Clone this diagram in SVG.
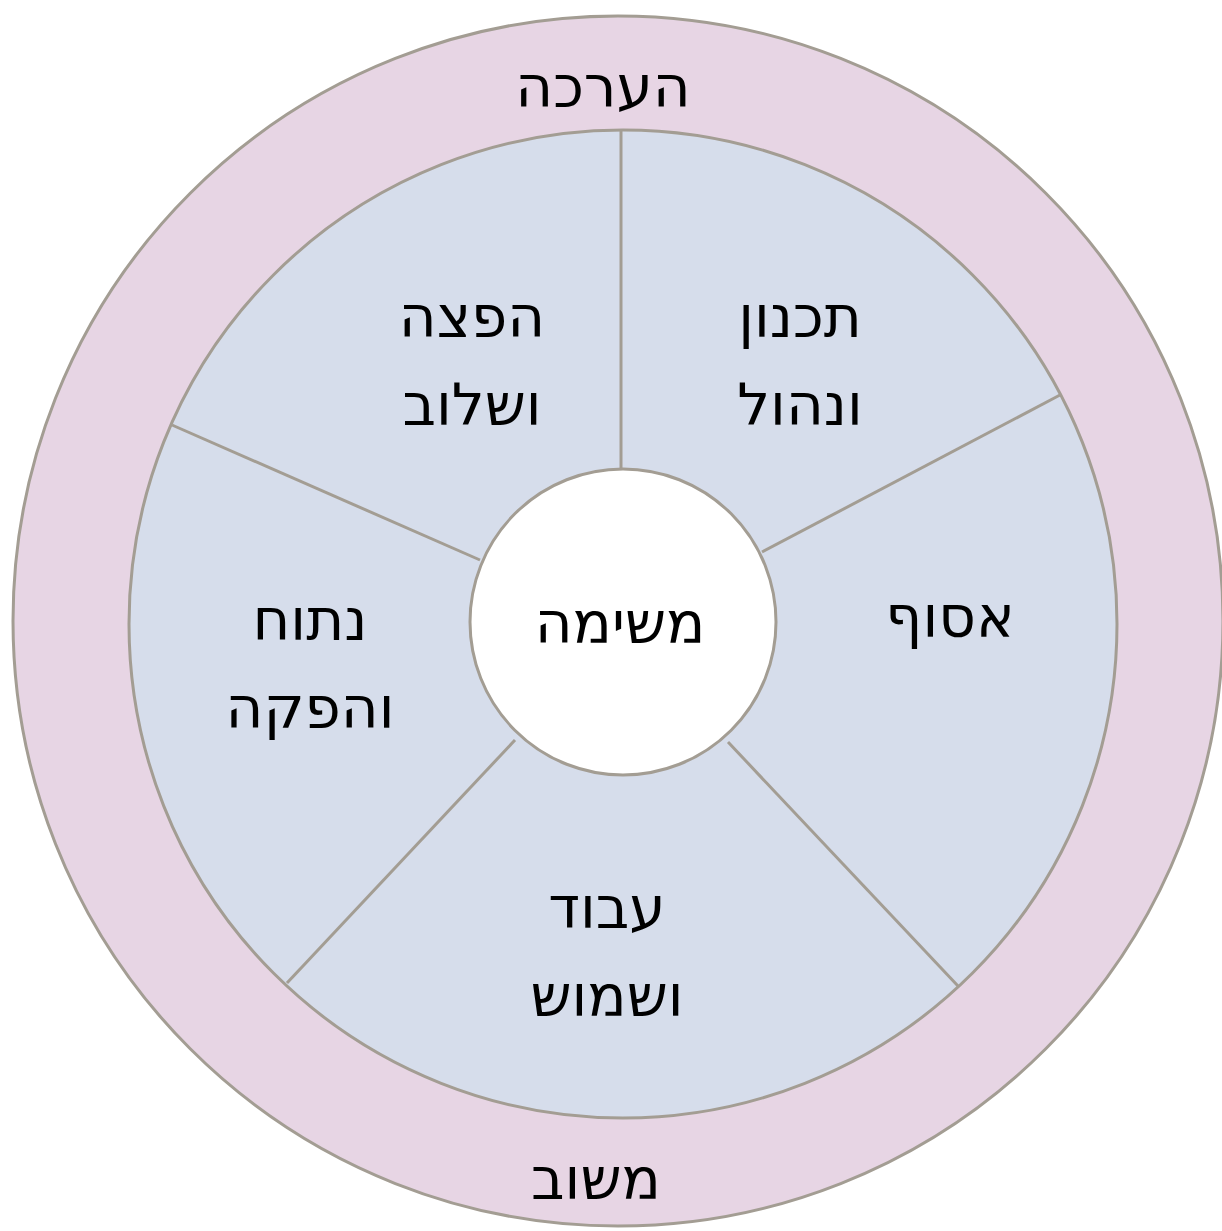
<svg xmlns="http://www.w3.org/2000/svg" width="1222" height="1231" viewBox="0 0 1222 1231">
<style>
.ring{fill:#e7d5e4;stroke:#a39d93;stroke-width:3}
.disk{fill:#d6ddeb;stroke:#a39d93;stroke-width:3}
.hub{fill:#ffffff;stroke:#a39d93;stroke-width:3}
.spoke{stroke:#a39d93;stroke-width:3;fill:none}
text{font-family:"DejaVu Sans",sans-serif;font-size:58px;fill:#000;text-anchor:middle}
</style>
<rect width="1222" height="1231" fill="#ffffff"/>
<g id="outer-ring">
<circle class="ring" cx="618" cy="621" r="605"/>
<text x="603" y="107">הערכה</text>
<text x="596" y="1199">משוב</text>
</g>
<g id="disk">
<circle class="disk" cx="623" cy="624" r="494"/>
</g>
<g id="connectors">
<line class="spoke" x1="621" y1="130" x2="621" y2="468"/>
<line class="spoke" x1="762" y1="552" x2="1060" y2="395"/>
<line class="spoke" x1="172" y1="425" x2="480" y2="560"/>
<line class="spoke" x1="287" y1="983" x2="515" y2="740"/>
<line class="spoke" x1="958" y1="986" x2="728" y2="742"/>
</g>
<g id="hub">
<circle class="hub" cx="623" cy="622" r="153"/>
<text x="620" y="643">משימה</text>
</g>
<g id="seg-planning">
<text x="800" y="337">תכנון</text>
<text x="800" y="425">ונהול</text>
</g>
<g id="seg-collection">
<text x="950" y="637">אסוף</text>
</g>
<g id="seg-processing">
<text x="607" y="928">עבוד</text>
<text x="607" y="1016">ושמוש</text>
</g>
<g id="seg-analysis">
<text x="310" y="640">נתוח</text>
<text x="310" y="728">והפקה</text>
</g>
<g id="seg-dissemination">
<text x="472" y="337">הפצה</text>
<text x="472" y="425">ושלוב</text>
</g>
</svg>
